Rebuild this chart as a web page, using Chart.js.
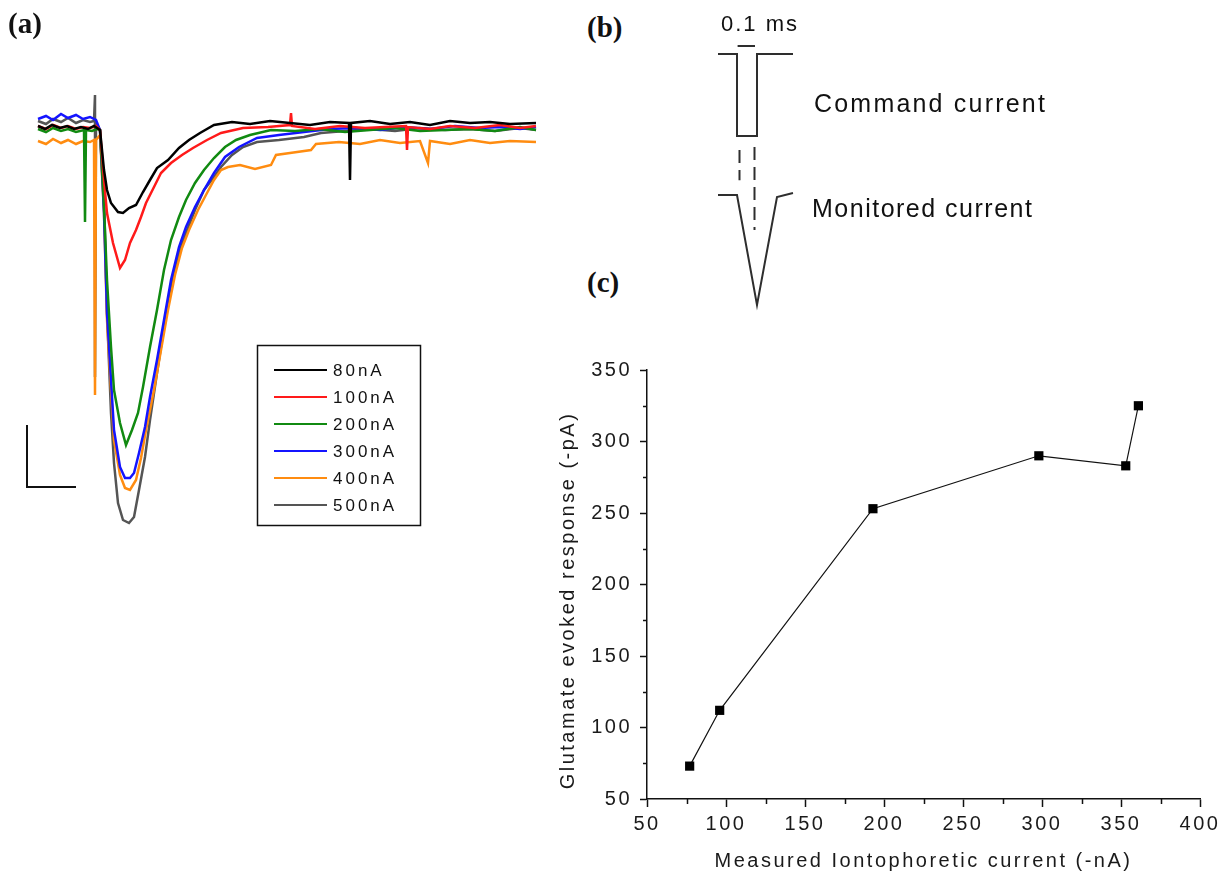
<!DOCTYPE html>
<html>
<head>
<meta charset="utf-8">
<script src="https://cdn.jsdelivr.net/npm/chart.js@4.4.1/dist/chart.umd.min.js"></script>
<style>
  body { margin: 0; background: #fff; }
  #page { position: relative; width: 1225px; height: 878px; overflow: hidden; background: #fff; }
  canvas { position: absolute; }
  .tag { position: absolute; font: bold 29px "Liberation Serif", "Times New Roman", serif; line-height: 1; color: #111; }
  .note { position: absolute; font-family: "Liberation Sans", Arial, sans-serif; line-height: 1; color: #111; white-space: nowrap; }
</style>
</head>
<body>
<div id="page">
  <canvas id="traces" width="560" height="560" style="left:0;top:0"></canvas>
  <canvas id="scheme" width="120" height="320" style="left:700px;top:0"></canvas>
  <canvas id="dose" width="685" height="538" style="left:540px;top:340px"></canvas>

  <div class="tag" style="left:8px;top:9px">(a)</div>
  <div class="tag" style="left:587px;top:13px">(b)</div>
  <div class="tag" style="left:587px;top:268px">(c)</div>

  <div class="note" style="left:721px;top:13px;font-size:22px;letter-spacing:2px">0.1 ms</div>
  <div class="note" style="left:814px;top:91px;font-size:25px;letter-spacing:2.2px">Command current</div>
  <div class="note" style="left:812px;top:196px;font-size:25px;letter-spacing:1.5px">Monitored current</div>
</div>

<script>
// ---- (a) evoked currents, [time, current] in display units ----
const traceLabels = ['80nA', '100nA', '200nA', '300nA', '400nA', '500nA'];
const traceColors = ['#000000', '#ff1a1a', '#118a11', '#1414ff', '#ff8c10', '#555555'];

const trace80 = [[18,-1],[25,-4],[32,0],[40,-3],[47,-1],[54,-4],[61,-2],[68,-4],[74,-1],[80,-5],[84,-45],[87,-65],[91,-78],[98,-87],[103,-88],[109,-83],[116,-80],[123,-67],[130,-55],[137,-43],[148,-35],[159,-23],[169,-15],[180,-8],[194,0],[212,3],[230,1],[250,4],[270,2],[290,0],[310,3],[329,2],[330,-55],[331,2],[350,4],[370,1],[390,3],[410,0],[430,4],[450,2],[470,3],[490,1],[516,2]];
const trace100 = [[18,-1],[26,-4],[33,0],[41,-3],[48,-1],[56,-4],[63,-2],[70,-3],[76,-1],[80,-5],[84,-55],[87,-88],[93,-118],[100,-143],[105,-135],[110,-118],[116,-105],[121,-92],[126,-78],[134,-62],[141,-48],[151,-38],[162,-30],[173,-23],[187,-15],[201,-8],[223,-3],[248,-2],[270,0],[271,12],[272,-1],[295,-4],[320,-1],[345,-3],[365,-2],[386,-1],[387,-25],[388,-2],[410,-4],[430,-1],[455,-3],[480,0],[500,-3],[516,-1]];
const trace200 = [[18,-4],[26,-7],[33,-3],[41,-6],[48,-4],[56,-7],[64,-5],[65,-97],[66,-5],[72,-6],[77,-4],[80,-5],[84,-82],[87,-155],[91,-222],[94,-265],[100,-298],[106,-320],[112,-305],[118,-288],[123,-262],[130,-222],[137,-185],[144,-145],[151,-115],[159,-92],[166,-75],[175,-58],[184,-45],[194,-33],[205,-22],[216,-15],[230,-10],[251,-5],[275,-6],[300,-4],[325,-7],[350,-5],[375,-3],[400,-6],[425,-5],[450,-4],[475,-6],[500,-2],[516,-5]];
const trace300 = [[18,6],[26,9],[33,5],[41,11],[48,7],[56,10],[63,6],[70,8],[76,5],[80,-5],[84,-88],[87,-188],[91,-255],[94,-305],[100,-342],[105,-353],[110,-353],[114,-348],[119,-328],[125,-302],[130,-272],[137,-235],[144,-195],[151,-155],[159,-122],[166,-102],[175,-82],[184,-65],[194,-48],[205,-32],[219,-22],[237,-13],[259,-10],[284,-7],[310,-4],[335,-3],[360,-5],[385,-2],[410,-4],[435,-1],[460,-3],[480,-2],[500,-4],[516,-2]];
const trace400 = [[18,-16],[26,-19],[33,-14],[41,-18],[48,-15],[56,-19],[63,-16],[70,-17],[74,-15],[75,-270],[76,-15],[80,-10],[84,-88],[87,-195],[91,-265],[94,-315],[100,-350],[105,-363],[110,-365],[116,-355],[121,-333],[126,-305],[134,-265],[141,-225],[148,-185],[155,-150],[162,-123],[169,-105],[178,-85],[187,-68],[194,-55],[201,-45],[208,-42],[220,-40],[235,-44],[251,-40],[256,-30],[270,-28],[291,-25],[296,-19],[319,-17],[340,-19],[360,-15],[380,-18],[400,-16],[408,-38],[410,-16],[430,-19],[450,-15],[470,-18],[490,-16],[516,-17]];
const trace500 = [[18,4],[26,1],[33,6],[41,3],[48,7],[56,2],[63,5],[70,3],[74,4],[75,30],[75,-252],[76,2],[80,-5],[84,-72],[87,-188],[91,-288],[94,-338],[98,-378],[103,-395],[109,-398],[114,-392],[119,-365],[125,-332],[130,-295],[137,-248],[144,-202],[151,-162],[159,-128],[166,-108],[175,-85],[184,-65],[194,-52],[201,-42],[212,-30],[223,-22],[237,-17],[259,-15],[284,-12],[301,-8],[325,-6],[350,-4],[375,-6],[400,-3],[425,-5],[450,-4],[475,-6],[500,-3],[516,-5]];
const scaleBar = [[7,-300],[7,-362],[56,-362]];

// ---- (b) stimulus schematic: time in ms, level in pulse units ----
const commandT = [-0.095, 0, 0, 0.1, 0.1, 0.28];
const commandLevel = [0, 0, -1, -1, 0, 0];
const monitorT = [-0.095, 0, 0.1, 0.2, 0.28];
const monitorLevel = [-1.72, -1.72, -3.06, -1.744, -1.695];
const widthBarT = [0.003, 0.09];
const widthBarLevel = [0.098, 0.098];
const guideLeftT = [0.0125, 0.0125];
const guideLeftLevel = [-1.17, -1.54];
const guideRightT = [0.0875, 0.0875];
const guideRightLevel = [-1.134, -2.146];

// ---- (c) dose response ----
const measuredCurrent = [77, 96, 193, 298, 353, 361];
const evokedResponse = [73, 112, 253, 290, 283, 325];
const minorX = [75, 125, 175, 225, 275, 325, 375];
const minorY = [75, 125, 175, 225, 275, 325];

const sans = '"Liberation Sans", Arial, sans-serif';
const toXY = arr => arr.map(p => ({ x: p[0], y: p[1] }));
const zipXY = (xs, ys) => xs.map((x, i) => ({ x: x, y: ys[i] }));

// ----- panel a -----
const traceData = [trace80, trace100, trace200, trace300, trace400, trace500];

const traceKey = {
  id: 'traceKey',
  afterDraw(chart) {
    const ctx = chart.ctx;
    ctx.save();
    ctx.strokeStyle = '#111';
    ctx.lineWidth = 1.5;
    ctx.strokeRect(257.5, 345.5, 163, 180);
    ctx.font = '17px ' + sans;
    ctx.letterSpacing = '3px';
    ctx.textBaseline = 'middle';
    traceLabels.forEach((lab, i) => {
      const y = 370 + 27 * i;
      ctx.strokeStyle = traceColors[i];
      ctx.lineWidth = 1.8;
      ctx.beginPath();
      ctx.moveTo(274, y);
      ctx.lineTo(327, y);
      ctx.stroke();
      ctx.fillStyle = '#111';
      ctx.fillText(lab, 333, y + 1);
    });
    ctx.restore();
  }
};

new Chart(document.getElementById('traces'), {
  type: 'line',
  data: {
    datasets: traceData.map((d, i) => ({
      label: traceLabels[i],
      data: toXY(d),
      borderColor: traceColors[i],
      borderWidth: 2.5,
      pointRadius: 0,
      tension: 0
    })).concat([{
      label: '',
      data: toXY(scaleBar),
      borderColor: '#111',
      borderWidth: 2,
      pointRadius: 0,
      clip: false
    }])
  },
  options: {
    responsive: false,
    animation: false,
    layout: { padding: { left: 20, right: 20, top: 90, bottom: 30 } },
    plugins: { legend: { display: false }, tooltip: { enabled: false } },
    scales: {
      x: { type: 'linear', min: 0, max: 520, display: false },
      y: { type: 'linear', min: -405, max: 35, display: false }
    }
  },
  plugins: [traceKey]
});

// ----- panel b -----
const schemeLine = (data, dash) => ({
  data: data,
  borderColor: '#2e2e2e',
  borderWidth: 2,
  borderDash: dash || [],
  pointRadius: 0,
  tension: 0,
  clip: false
});

new Chart(document.getElementById('scheme'), {
  type: 'line',
  data: {
    datasets: [
      schemeLine(zipXY(commandT, commandLevel)),
      schemeLine(zipXY(monitorT, monitorLevel)),
      schemeLine(zipXY(widthBarT, widthBarLevel)),
      schemeLine(zipXY(guideLeftT, guideLeftLevel), [13, 7]),
      schemeLine(zipXY(guideRightT, guideRightLevel), [13, 7])
    ]
  },
  options: {
    responsive: false,
    animation: false,
    layout: { padding: 0 },
    plugins: { legend: { display: false }, tooltip: { enabled: false } },
    scales: {
      x: { type: 'linear', min: -0.185, max: 0.415, display: false },
      y: { type: 'linear', min: -3.244, max: 0.659, display: false }
    }
  }
});

// ----- panel c -----
const axisDecor = {
  id: 'axisDecor',
  beforeDraw(chart) {
    chart.ctx.letterSpacing = '2.5px';
  },
  afterDraw(chart) {
    const ctx = chart.ctx;
    const xs = chart.scales.x, ys = chart.scales.y;
    ctx.save();
    ctx.strokeStyle = '#111';
    ctx.lineWidth = 1.5;
    ctx.beginPath();
    minorX.forEach(v => {
      const px = Math.round(xs.getPixelForValue(v)) + 0.5;
      ctx.moveTo(px, ys.bottom);
      ctx.lineTo(px, ys.bottom + 5);
    });
    minorY.forEach(v => {
      const py = Math.round(ys.getPixelForValue(v)) + 0.5;
      ctx.moveTo(xs.left, py);
      ctx.lineTo(xs.left - 4, py);
    });
    ctx.stroke();

    ctx.fillStyle = '#1a1a1a';
    ctx.font = '20px ' + sans;
    ctx.letterSpacing = '2.5px';
    ctx.textAlign = 'center';
    ctx.textBaseline = 'middle';
    ctx.fillText('Measured Iontophoretic current (-nA)', (xs.left + xs.right) / 2, 521);
    ctx.translate(28, (ys.top + ys.bottom) / 2 + 16);
    ctx.rotate(-Math.PI / 2);
    ctx.fillText('Glutamate evoked response (-pA)', 0, 0);
    ctx.restore();
  }
};

new Chart(document.getElementById('dose'), {
  type: 'line',
  data: {
    datasets: [{
      data: zipXY(measuredCurrent, evokedResponse),
      borderColor: '#111',
      borderWidth: 1.2,
      pointStyle: 'rect',
      pointRadius: 6.5,
      pointBackgroundColor: '#000',
      pointBorderWidth: 0,
      tension: 0,
      clip: false
    }]
  },
  options: {
    responsive: false,
    animation: false,
    layout: { padding: { left: 0, right: 25, top: 30, bottom: 0 } },
    plugins: { legend: { display: false }, tooltip: { enabled: false } },
    scales: {
      x: {
        type: 'linear', min: 50, max: 400,
        afterFit: s => { s.height = 79; },
        border: { display: true, color: '#111', width: 1.5 },
        grid: { drawOnChartArea: false, drawTicks: true, tickLength: 8, tickColor: '#111', tickWidth: 1.5 },
        ticks: { stepSize: 50, padding: 5, color: '#1a1a1a', font: { family: sans, size: 20 } }
      },
      y: {
        type: 'linear', min: 50, max: 350,
        afterFit: s => { s.width = 107; },
        border: { display: true, color: '#111', width: 1.5 },
        grid: { drawOnChartArea: false, drawTicks: true, tickLength: 7, tickColor: '#111', tickWidth: 1.5 },
        ticks: { stepSize: 50, padding: 8, color: '#1a1a1a', font: { family: sans, size: 20 } }
      }
    }
  },
  plugins: [axisDecor]
});
</script>
</body>
</html>
